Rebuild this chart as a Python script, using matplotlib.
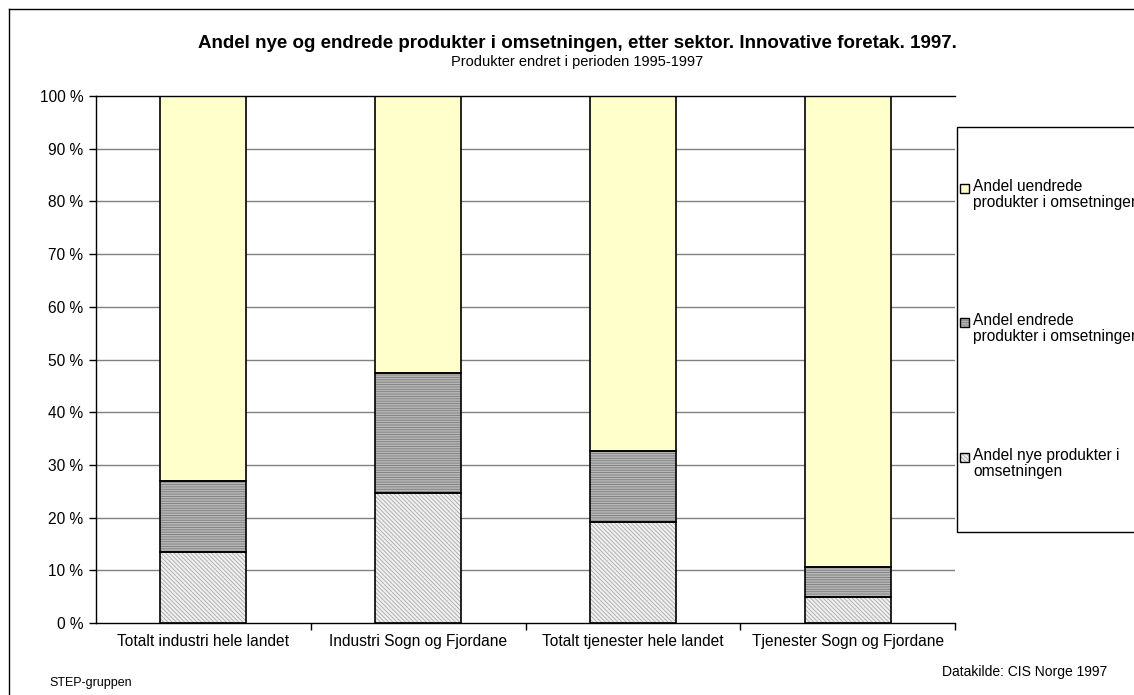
import matplotlib
matplotlib.use("Agg")
import matplotlib.pyplot as plt
from matplotlib.patches import Rectangle
from matplotlib.lines import Line2D
import numpy as np

plt.rcParams["font.family"] = ["Liberation Sans", "DejaVu Sans"]
plt.rcParams["hatch.linewidth"] = 0.6

SECTORS = ["Totalt industri hele landet", "Industri Sogn og Fjordane",
           "Totalt tjenester hele landet", "Tjenester Sogn og Fjordane"]
NYE = [13.5, 24.7, 19.2, 4.9]          # Andel nye produkter
ENDREDE = [13.4, 22.7, 13.4, 5.7]      # Andel endrede produkter
UENDREDE = [73.1, 52.6, 67.4, 89.4]    # Andel uendrede produkter
LABELS = ["Andel nye produkter i\nomsetningen",
          "Andel endrede\nprodukter i omsetningen",
          "Andel uendrede\nprodukter i omsetningen"]
YTICKS = list(range(0, 101, 10))

W, H = 1134, 695
fig = plt.figure(figsize=(W / 100, H / 100), dpi=100)
ax = fig.add_axes([96 / W, 1 - 623 / H, (955 - 96) / W, (623 - 96) / H])

# (face, hatch, hatch colour) per series
STYLES = [("#f0f0f0", "\\\\\\\\\\\\\\\\", "#a8a8a8"),
          ("#b8b8b8", "-------", "#7a7a7a"),
          ("#ffffcc", None, None)]

x = np.arange(len(SECTORS))
bottom = np.zeros(len(SECTORS))
for vals, (face, hatch, hcol) in zip([NYE, ENDREDE, UENDREDE], STYLES):
    ax.bar(x, vals, 0.4, bottom=bottom, color=face, hatch=hatch,
           edgecolor=hcol if hcol else face, linewidth=0, zorder=2)
    ax.bar(x, vals, 0.4, bottom=bottom, fill=False, edgecolor="black",
           linewidth=1.2, zorder=3)
    bottom += np.array(vals)

ax.set_xlim(-0.5, len(SECTORS) - 0.5)
ax.set_ylim(0, 100)
ax.set_yticks(YTICKS)
ax.set_yticklabels([f"{v} %" for v in YTICKS], fontsize=11.2)
for v in YTICKS[1:-1]:
    ax.axhline(v, color="#808080", linewidth=1, zorder=1)
ax.set_xticks(x)
ax.set_xticklabels(SECTORS, fontsize=11.2)
ax.tick_params(axis="x", which="major", length=0, pad=8)
ax.set_xticks(list(x + 0.5), minor=True)
ax.tick_params(axis="x", which="minor", length=5, direction="out", width=1)
ax.tick_params(axis="y", length=5, direction="out", width=1, pad=4)
ax.spines["right"].set_visible(False)
for s in ["top", "left", "bottom"]:
    ax.spines[s].set_color("black")
    ax.spines[s].set_linewidth(1)

# outer chart frame
fig.add_artist(Line2D([9 / W, 9 / W], [0, 1 - 9 / H], transform=fig.transFigure,
                      color="black", linewidth=1))
fig.add_artist(Line2D([9 / W, 1], [1 - 9 / H, 1 - 9 / H], transform=fig.transFigure,
                      color="black", linewidth=1))

fig.text(577 / W, 1 - 43 / H,
         "Andel nye og endrede produkter i omsetningen, etter sektor. Innovative foretak. 1997.",
         ha="center", va="center", fontsize=13.5, fontweight="bold")
fig.text(577 / W, 1 - 62 / H, "Produkter endret i perioden 1995-1997",
         ha="center", va="center", fontsize=10.5)
fig.text(49 / W, 1 - 683 / H, "STEP-gruppen", ha="left", va="center", fontsize=9)
fig.text(1107 / W, 1 - 672 / H, "Datakilde: CIS Norge 1997", ha="right",
         va="center", fontsize=10)

# legend box (cut by the right edge, as in the original)
fig.add_artist(Rectangle((957 / W, 1 - 532 / H), 200 / W, (532 - 127) / H,
                         transform=fig.transFigure, facecolor="white",
                         edgecolor="black", linewidth=1))
entry_y = [457, 322, 188]
for label, (face, hatch, hcol), ey in zip(LABELS, STYLES, entry_y):
    fig.add_artist(Rectangle((960 / W, 1 - (ey + 5) / H), 9 / W, 9 / H,
                             transform=fig.transFigure, facecolor=face,
                             hatch=hatch, edgecolor=hcol if hcol else face,
                             linewidth=0))
    fig.add_artist(Rectangle((960 / W, 1 - (ey + 5) / H), 9 / W, 9 / H,
                             transform=fig.transFigure, fill=False,
                             edgecolor="black", linewidth=1))
    fig.text(973 / W, 1 - (ey - 9) / H, label, ha="left", va="top",
             fontsize=11.2, linespacing=1.1)

fig.savefig("out.png", dpi=100)
